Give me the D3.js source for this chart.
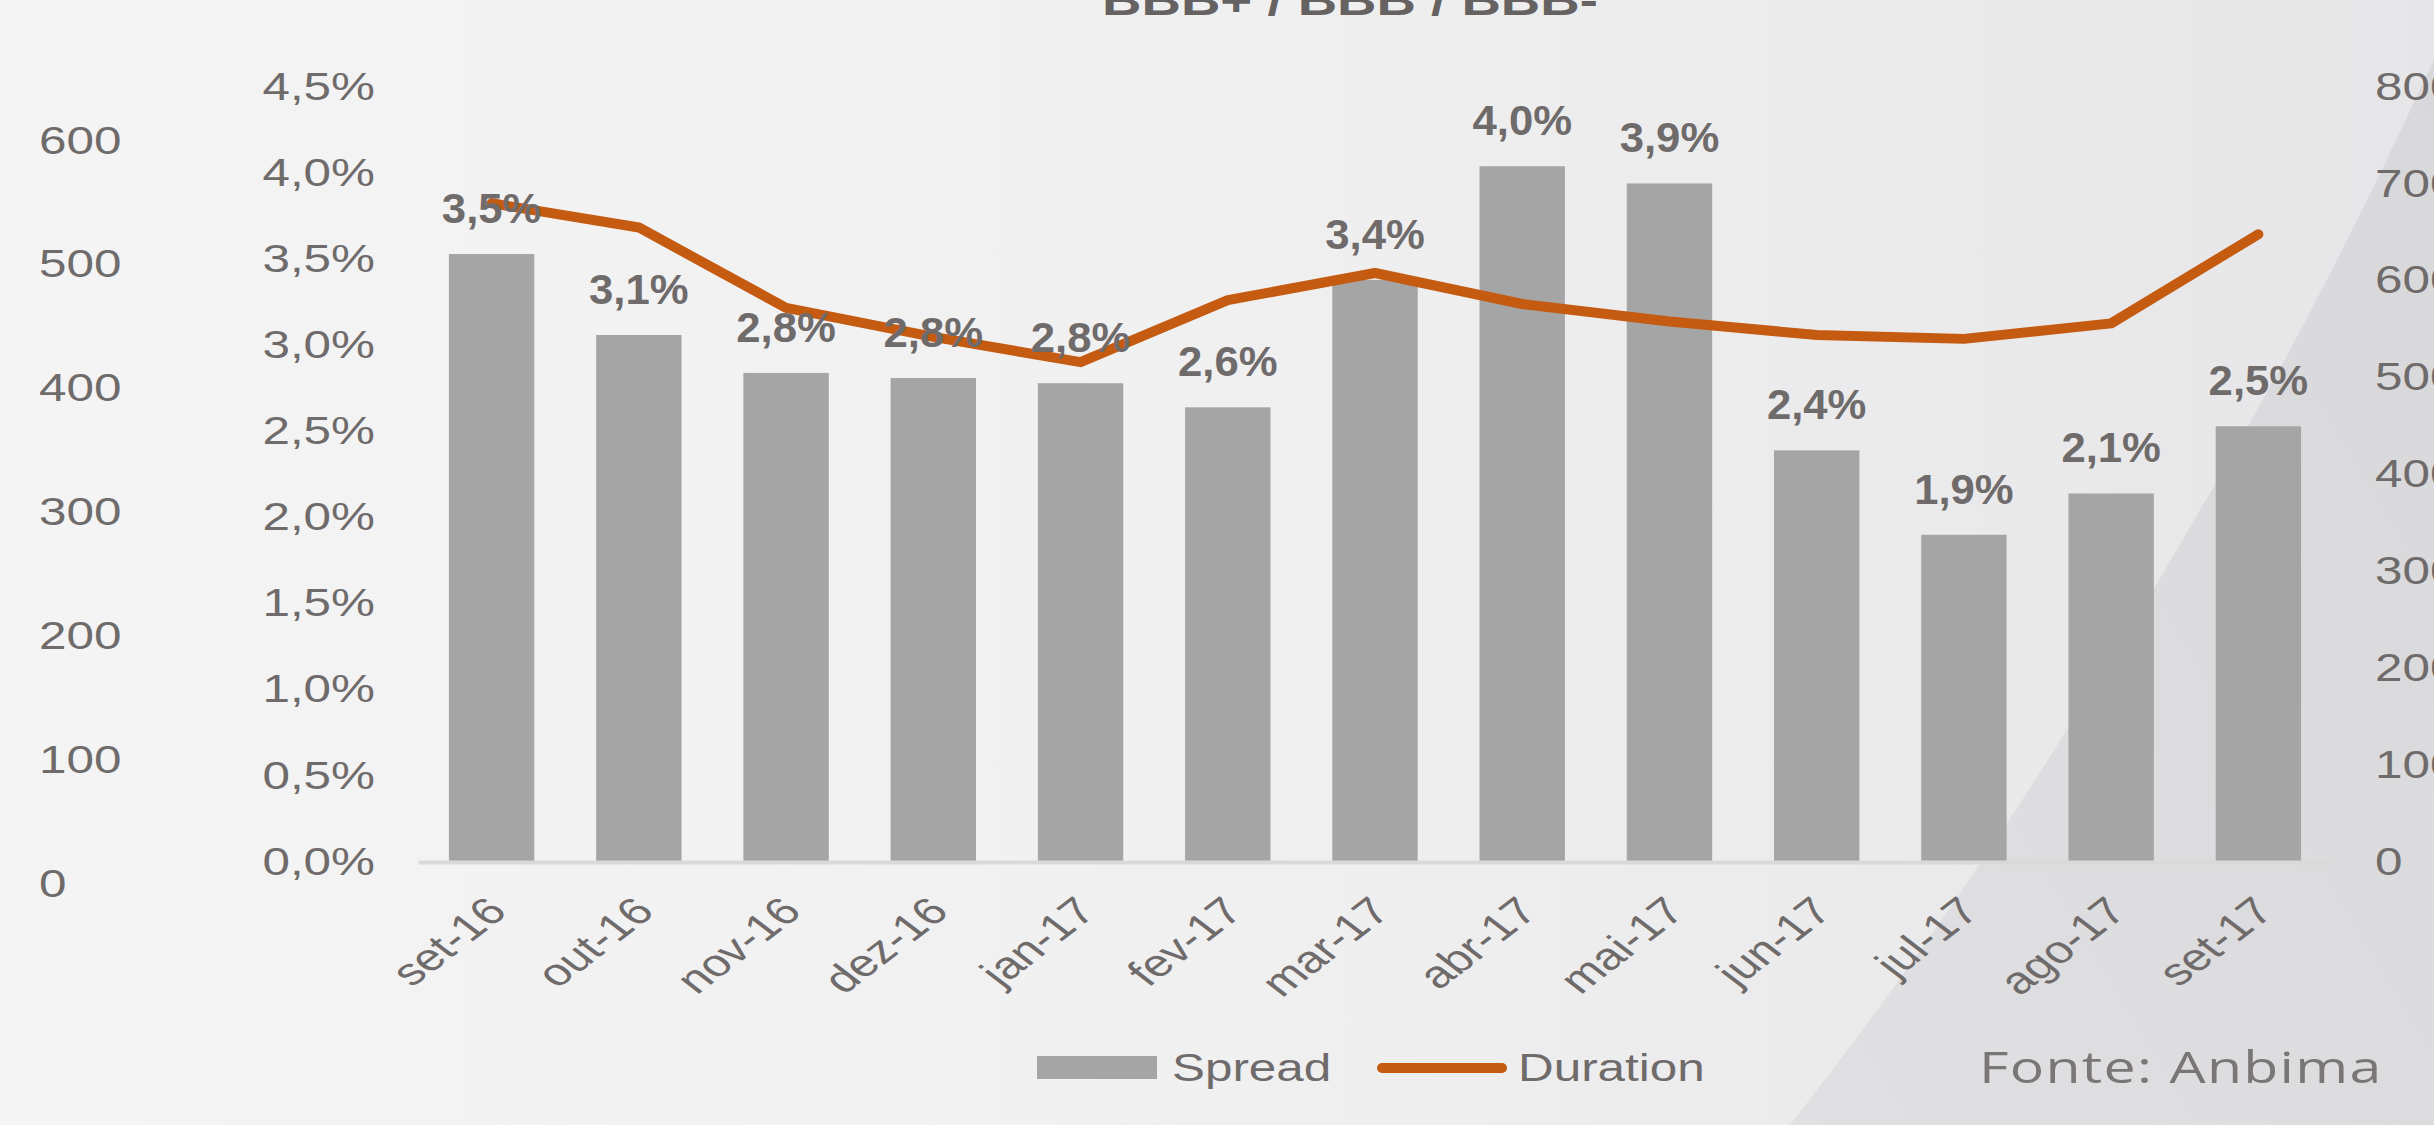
<!DOCTYPE html>
<html>
<head>
<meta charset="utf-8">
<script src="https://cdn.jsdelivr.net/npm/d3@7"></script>
<style>
	html, body { margin: 0; padding: 0; overflow: hidden; background: #f1f1f1; }
	svg { display: block; }
	text { font-family: "Liberation Sans", Arial, sans-serif; fill: #6f6b6b; }
</style>
</head>
<body>
<div id="chart"></div>
<script>
// data
const categories = ["set-16", "out-16", "nov-16", "dez-16", "jan-17", "fev-17", "mar-17",
	"abr-17", "mai-17", "jun-17", "jul-17", "ago-17", "set-17"];
const spread = [3.53, 3.06, 2.84, 2.81, 2.78, 2.64, 3.38, 4.04, 3.94, 2.39, 1.90, 2.14, 2.53];
const duration = [680, 655, 572, 542, 516, 580, 608, 576, 558, 544, 540, 556, 648];
const spreadTicks = [0, 0.5, 1, 1.5, 2, 2.5, 3, 3.5, 4, 4.5];
const durationTicks = [0, 100, 200, 300, 400, 500, 600, 700, 800];
const extraTicks = [0, 100, 200, 300, 400, 500, 600];
const seriesNames = ["Spread", "Duration"];
const title = "BBB+ / BBB / BBB-";
const source = "Fonte: Anbima";

const W = 2434, H = 1125;
// the picture is stretched sideways, so draw narrow and let the viewBox widen it
const stretch = 1.3;
const vw = W / stretch;
const px = v => v / stretch;

const barColor = "#a5a5a5",
	lineColor = "#c55a11",
	axisColor = "#d9d9d9";

const locale = d3.formatLocale({decimal: ",", thousands: ".", grouping: [3], currency: ["R$", ""]});
const fmt1 = locale.format(".1f");
const pct = d => fmt1(d) + "%";

const svg = d3.select("#chart").append("svg")
		.attr("width", W)
		.attr("height", H)
		.attr("viewBox", `0 0 ${vw} ${H}`)
		.attr("preserveAspectRatio", "none");

// background
const defs = svg.append("defs");
const bg = defs.append("linearGradient").attr("id", "bg");
bg.append("stop").attr("offset", "0").attr("stop-color", "#f4f4f4");
bg.append("stop").attr("offset", "0.5").attr("stop-color", "#f0f0f1");
bg.append("stop").attr("offset", "1").attr("stop-color", "#e6e6e8");
const wedge = defs.append("linearGradient").attr("id", "wedge")
		.attr("x1", "0").attr("y1", "1").attr("x2", "1").attr("y2", "0");
wedge.append("stop").attr("offset", "0").attr("stop-color", "#e0e0e2");
wedge.append("stop").attr("offset", "1").attr("stop-color", "#d8d8da");

svg.append("rect")
		.attr("width", vw)
		.attr("height", H)
		.attr("fill", "url(#bg)");
svg.append("path")
		.attr("d", d3.line().curve(d3.curveBasis)([
			[px(1790), H], [px(1985), 870], [px(2285), 375], [px(2434), 60]
		]) + `L${vw},${H}Z`)
		.attr("fill", "url(#wedge)");

// scales
const x = d3.scaleBand()
		.domain(categories)
		.range([px(418), px(2332)])
		.paddingInner(0.42)
		.paddingOuter(0.21);
const y = d3.scaleLinear()
		.domain([0, 4.5])
		.range([862, 87]);
const y2 = d3.scaleLinear()
		.domain([0, 800])
		.range([862, 87]);
const y3 = d3.scaleLinear()
		.domain([0, 600])
		.range([884, 141]);

// title, mostly cut off at the top
svg.append("text")
		.attr("x", px(1350))
		.attr("y", 15)
		.attr("text-anchor", "middle")
		.attr("font-weight", "bold")
		.attr("font-size", 42)
		.style("fill", "#666262")
		.text(title);

function styleAxis(g) {
	g.select(".domain").remove();
	g.selectAll("text")
			.attr("font-size", 38)
			.attr("font-family", null)
			.attr("fill", null);
}

// left-most stray axis 0..600
svg.append("g")
		.attr("transform", `translate(${px(39)}, 0)`)
		.call(d3.axisRight(y3).tickValues(extraTicks).tickSize(0).tickPadding(0))
		.call(styleAxis);

// percent axis
svg.append("g")
		.attr("transform", `translate(${px(418)}, 0)`)
		.call(d3.axisLeft(y).tickValues(spreadTicks).tickFormat(pct).tickSize(0).tickPadding(px(43)))
		.call(styleAxis);

// duration axis on the right
svg.append("g")
		.attr("transform", `translate(${px(2332)}, 0)`)
		.call(d3.axisRight(y2).tickValues(durationTicks).tickSize(0).tickPadding(px(43)))
		.call(styleAxis);

// bars
svg.append("g").selectAll("rect")
		.data(spread)
		.join("rect")
		.attr("x", (d, i) => x(categories[i]))
		.attr("y", d => y(d))
		.attr("width", x.bandwidth())
		.attr("height", d => y(0) - y(d))
		.attr("fill", barColor);

// category axis
const xAxis = svg.append("g")
		.attr("transform", `translate(0, ${y(0)})`)
		.call(d3.axisBottom(x).tickSize(0).tickPadding(0));
xAxis.select(".domain")
		.attr("stroke", axisColor)
		.attr("stroke-width", 4);
xAxis.selectAll("text")
		.attr("font-size", 38)
		.attr("font-family", null)
		.attr("fill", null)
		.attr("text-anchor", "end")
		.attr("y", 0)
		.attr("dy", "0.35em")
		.attr("transform", "translate(4, 42) rotate(-45)");

// duration line
const line = d3.line()
		.x((d, i) => x(categories[i]) + x.bandwidth() / 2)
		.y(d => y2(d));
svg.append("path")
		.datum(duration)
		.attr("d", line)
		.attr("fill", "none")
		.attr("stroke", lineColor)
		.attr("stroke-width", 10)
		.attr("stroke-linejoin", "round")
		.attr("stroke-linecap", "round")
		.attr("vector-effect", "non-scaling-stroke");

// bar labels (these are not stretched in the original, so squeeze them back)
svg.append("g").selectAll("text")
		.data(spread)
		.join("text")
		.attr("transform", (d, i) =>
			`translate(${x(categories[i]) + x.bandwidth() / 2}, ${y(d) - 31}) scale(0.8, 1)`)
		.attr("text-anchor", "middle")
		.attr("font-weight", "bold")
		.attr("font-size", 42)
		.text(pct);

// legend
const legend = svg.append("g");
legend.append("rect")
		.attr("x", px(1037))
		.attr("y", 1056)
		.attr("width", px(120))
		.attr("height", 23)
		.attr("fill", barColor);
legend.append("text")
		.attr("x", px(1172))
		.attr("y", 1068)
		.attr("dy", "0.35em")
		.attr("font-size", 38)
		.text(seriesNames[0]);
legend.append("line")
		.attr("x1", px(1382))
		.attr("x2", px(1502))
		.attr("y1", 1068)
		.attr("y2", 1068)
		.attr("stroke", lineColor)
		.attr("stroke-width", 10)
		.attr("stroke-linecap", "round")
		.attr("vector-effect", "non-scaling-stroke");
legend.append("text")
		.attr("x", px(1518))
		.attr("y", 1068)
		.attr("dy", "0.35em")
		.attr("font-size", 38)
		.text(seriesNames[1]);

// source note
svg.append("text")
		.attr("x", px(1979))
		.attr("y", 1083)
		.attr("font-size", 44)
		.attr("letter-spacing", 1)
		.style("font-family", "'Open Sans', sans-serif")
		.style("fill", "#7a7676")
		.text(source);
</script>
</body>
</html>
